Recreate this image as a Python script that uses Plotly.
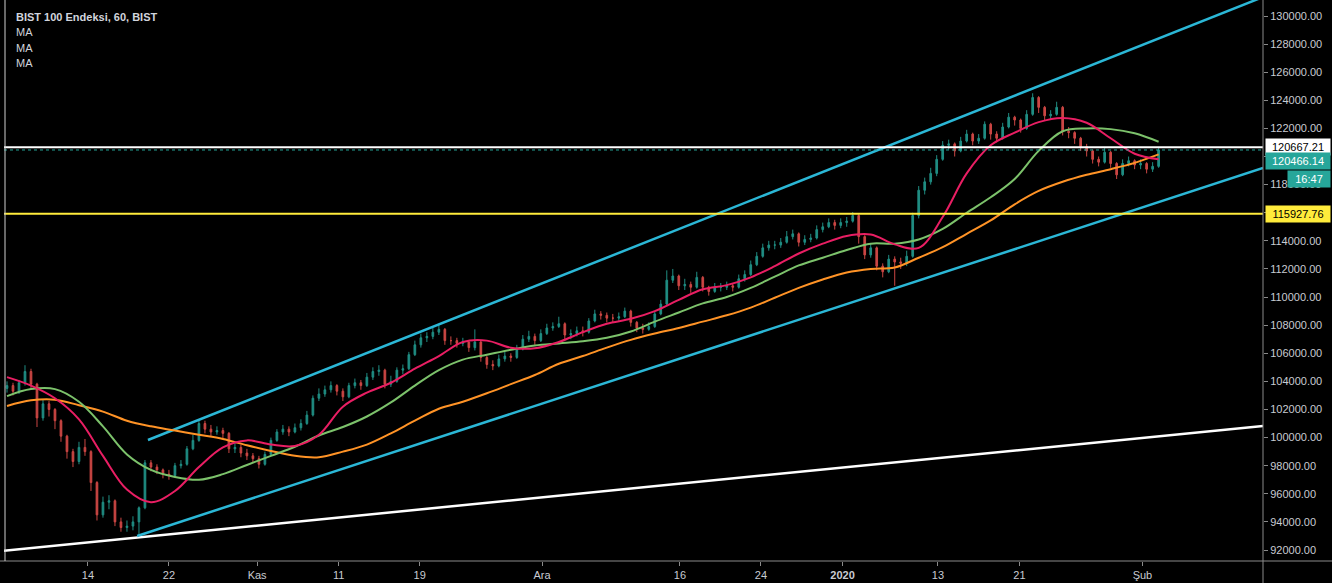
import plotly.graph_objects as go

# ---------------- data ----------------
first_open = 103500
closes = [
    103700, 103300, 103900, 104700, 103800, 101400, 102400, 102000, 101200, 100100,
    99000, 98300, 99300, 99000, 96800, 94500, 95400, 95500, 94000, 93600,
    93700, 94000, 95000, 98200, 97900, 97700, 97400, 97300, 98000, 98100,
    99200, 99800, 101000, 100600, 100400, 100500, 100300, 99200, 99300, 98900,
    98700, 98500, 98100, 98800, 99800, 100400, 100600, 100400, 100700, 101000,
    101600, 102800, 103100, 103400, 103700, 103300, 102900, 103700, 103900, 103700,
    104300, 104700, 104800, 103800, 104000, 104800, 104900, 105900, 106600, 107100,
    107200, 107500, 107700, 106900, 106900, 106700, 106800, 106400, 106800, 105700,
    105200, 105100, 105600, 105800, 105700, 106300, 107000, 107200, 106900, 107400,
    107800, 107900, 108100, 107300, 107400, 107600, 107500, 108300, 108800, 108700,
    108500, 108500, 108600, 109000, 108200, 107800, 107700, 107900, 108800, 109500,
    111200, 111500, 110800, 110900, 110700, 111400, 110700, 110400, 110700, 110700,
    110800, 110700, 111300, 111600, 112300, 112900, 113500, 113700, 113700, 113900,
    114300, 114500, 113900, 114100, 114200, 114800, 115000, 115300, 115100, 115300,
    115400, 115800, 114300, 113000, 113500, 112200, 111800, 112700, 112500, 112400,
    112900, 115800, 117600, 118200, 118800, 119800, 120800, 120900, 120400, 121100,
    121600, 121100, 121300, 122300, 121600, 121300, 122100, 122800, 122600, 122000,
    123000, 124200, 123500, 122900, 123000, 123500, 121800, 121700, 121300, 120700,
    120400, 119800, 119600, 120300, 119500, 118700, 119500, 119700, 119400, 119500,
    119100, 119300, 120466.14,
]
highs = [
    104000, 103900, 104100, 105150, 104900, 103900, 102700, 102600, 102100, 101300,
    100200, 99200, 99700, 99900, 99100, 96900, 95800, 95900, 95600, 94300,
    94100, 94400, 95100, 98400, 98400, 98100, 97800, 97700, 98200, 98400,
    99400, 100200, 101300, 101200, 100900, 100800, 100700, 100400, 99600, 99500,
    99200, 98900, 98700, 99000, 100000, 100600, 100900, 100800, 101000, 101300,
    101900, 103000, 103500, 103700, 104000, 103800, 103500, 103900, 104200, 104100,
    104600, 105000, 105150, 104900, 104400, 105000, 105200, 106100, 106900, 107400,
    107500, 107800, 108100, 107800, 107200, 107100, 107100, 106900, 107700, 106900,
    105800, 105500, 105900, 106100, 106000, 106600, 107300, 107600, 107400, 107700,
    108100, 108200, 108600, 108200, 107700, 107900, 107900, 108500, 109100, 109000,
    108900, 108800, 108900, 109250, 109100, 108300, 108100, 108200, 109000, 109800,
    111900, 112000, 111600, 111300, 111100, 111800, 111500, 110800, 111000, 111000,
    111100, 111000, 111600, 111900, 112600, 113200, 113800, 114000, 114000, 114200,
    114700, 114800, 114600, 114400, 114500, 115100, 115300, 115600, 115500, 115600,
    115700, 116050, 115900, 114400, 113800, 113600, 112400, 113000, 112900, 112800,
    113300, 116000, 117900, 118500, 119200, 120100, 121100, 121200, 121000, 121400,
    121900, 121700, 121600, 122500, 122400, 121800, 122400, 123100, 122900, 122700,
    123300, 124500, 124300, 123600, 123300, 123900, 123600, 122100, 121800, 121400,
    120900, 120500, 120000, 120600, 120400, 119600, 119800, 120000, 119800, 119800,
    119600, 119600, 120600,
]
lows = [
    103200, 103000, 103100, 103700, 103500, 100750, 101200, 101500, 100600, 99700,
    98500, 97900, 98100, 98700, 96200, 94100, 94300, 94900, 93700, 93300,
    93300, 93400, 93000, 94900, 97600, 97400, 97100, 97000, 97200, 97800,
    98000, 99100, 99700, 100300, 100100, 100200, 99900, 98900, 98900, 98600,
    98400, 98200, 97800, 98000, 98700, 99700, 100200, 100100, 100300, 100500,
    100900, 101500, 102600, 102900, 103200, 103000, 102600, 102800, 103500, 103400,
    103600, 104100, 104400, 103500, 103600, 103900, 104500, 104800, 105800, 106400,
    106800, 107000, 107300, 106600, 106600, 106400, 106500, 106100, 106200, 105400,
    104900, 104800, 105000, 105400, 105400, 105600, 106200, 106800, 106600, 106800,
    107300, 107600, 107800, 107000, 107000, 107200, 107200, 107400, 108200, 108400,
    108200, 108200, 108300, 108500, 107900, 107500, 107400, 107600, 107800, 108700,
    109400, 111000, 110500, 110500, 110300, 110600, 110400, 110100, 110300, 110400,
    110500, 110400, 110600, 111100, 111500, 112200, 112800, 113300, 113400, 113500,
    113800, 114100, 113600, 113700, 113900, 114100, 114600, 114900, 114800, 114900,
    115000, 115300, 113800, 112700, 112800, 111900, 111400, 111700, 110800, 112000,
    112200, 112800, 115600, 117300, 118000, 118600, 119700, 120500, 120000, 120300,
    121000, 120800, 120900, 121200, 121200, 121000, 121200, 122000, 122200, 121700,
    121900, 122900, 123100, 122600, 122600, 122900, 121500, 121300, 120900, 120400,
    120000, 119500, 119300, 119500, 119200, 118400, 118600, 119300, 119100, 119100,
    118800, 118900, 119200,
]

# moving averages, sampled every ma_step candles
ma_step = 4
ma_fast = [104300, 103700, 102800, 101300, 98700, 96300, 95400, 96200, 97900, 99300,
           99800, 99500, 99400, 100200, 102200, 103200, 103900, 104900, 105800, 106800,
           106900, 106400, 106350, 106800, 107500, 108100, 108450, 109000, 109800, 110550,
           110850, 111400, 112200, 113100, 113800, 114350, 114450, 113750, 113500, 115700,
           118800, 120800, 121700, 122450, 122750, 122400, 121300, 120200, 119800]
ma_mid = [102950, 103450, 103450, 102550, 100800, 98800, 97700, 97200, 97000, 97400,
          98050, 98700, 99350, 100150, 100750, 101500, 102500, 103700, 104800, 105550,
          105900, 106250, 106550, 106700, 106850, 107100, 107550, 108250, 108900, 109550,
          110000, 110650, 111450, 112250, 112800, 113350, 113800, 113800, 114100, 114850,
          116000, 117100, 118400, 120400, 121800, 122000, 121950, 121650, 121050]
ma_slow = [102250, 102650, 102700, 102300, 101850, 101200, 100800, 100500, 100200, 99900,
           99450, 99050, 98700, 98600, 99000, 99500, 100300, 101200, 102050, 102550,
           103150, 103800, 104450, 105250, 105800, 106400, 106950, 107400, 107800, 108250,
           108700, 109250, 109950, 110650, 111250, 111750, 112000, 112100, 112800, 113550,
           114500, 115450, 116600, 117550, 118200, 118700, 119100, 119550, 120150]

# time axis (candle index positions of the date labels)
tick_pos = [13.5, 27.0, 41.7, 55.3, 68.8, 89.2, 112.2, 125.7, 139.3, 155.2, 168.8, 189.3]
tick_labels = ["14", "22", "Kas", "11", "19", "Ara", "16", "24", "<b>2020</b>", "13", "21", "Şub"]

# price scale; labels hidden behind the price tags in the reference are left blank
y_ticks = list(range(92000, 130001, 2000))
y_hidden = [116000, 120000]

# drawings
upper_channel_x = [23.5, 209.4]
upper_channel_y = [99830, 131350]
lower_channel_x = [21.7, 209.4]
lower_channel_y = [93000, 119180]
base_line_x = [-1.0, 209.4]
base_line_y = [91930, 100830]
level_white = 120667.21
level_yellow = 115927.76
last_price = closes[-1]
countdown = "16:47"

title = "BIST 100 Endeksi, 60, BIST"
ma_names = ["MA", "MA", "MA"]

# ---------------- figure ----------------
FONT = "Liberation Sans, Arial, sans-serif"
TXT = "#c8cbd2"
AXIS = "#8a8a8a"

idx = list(range(len(closes)))
opens = [first_open] + closes[:-1]
highs_c = [max(h, o, c) for h, o, c in zip(highs, opens, closes)]
lows_c = [min(l, o, c) for l, o, c in zip(lows, opens, closes)]
ma_x = [i * ma_step for i in range(len(ma_fast))]
y_text = ["" if v in y_hidden else f"{v:.2f}" for v in y_ticks]

fig = go.Figure()

fig.add_trace(go.Scatter(x=base_line_x, y=base_line_y, mode="lines",
                         line=dict(color="#ffffff", width=2.5), hoverinfo="skip"))
fig.add_trace(go.Scatter(x=upper_channel_x, y=upper_channel_y, mode="lines",
                         line=dict(color="#2bb7d6", width=2.5), hoverinfo="skip"))
fig.add_trace(go.Scatter(x=lower_channel_x, y=lower_channel_y, mode="lines",
                         line=dict(color="#2bb7d6", width=2.5), hoverinfo="skip"))

fig.add_hline(y=level_white, line=dict(color="#ffffff", width=2))
fig.add_hline(y=level_yellow, line=dict(color="#ffeb3b", width=2))
fig.add_hline(y=last_price, line=dict(color="#26a69a", width=1, dash="dot"))

fig.add_trace(go.Candlestick(
    x=idx, open=opens, high=highs_c, low=lows_c, close=closes,
    increasing=dict(line=dict(color="#26a69a", width=1), fillcolor="#26a69a"),
    decreasing=dict(line=dict(color="#ef5350", width=1), fillcolor="#ef5350"),
    whiskerwidth=0, opacity=0.85, hoverinfo="skip"))

fig.add_trace(go.Scatter(x=ma_x, y=ma_slow, mode="lines", line_shape="spline",
                         line=dict(color="#ff9326", width=2), hoverinfo="skip"))
fig.add_trace(go.Scatter(x=ma_x, y=ma_mid, mode="lines", line_shape="spline",
                         line=dict(color="#7cc26b", width=2), hoverinfo="skip"))
fig.add_trace(go.Scatter(x=ma_x, y=ma_fast, mode="lines", line_shape="spline",
                         line=dict(color="#e91e63", width=2), hoverinfo="skip"))

W, H = 1332, 583
ML, MR, MT, MB = 4, 69, 0, 22
PW = W - ML - MR
PH = H - MT - MB

fig.update_layout(
    width=W, height=H,
    margin=dict(l=ML, r=MR, t=MT, b=MB, autoexpand=False),
    paper_bgcolor="#000000", plot_bgcolor="#000000",
    showlegend=False, hovermode=False, boxgap=0.6,
    font=dict(family=FONT, size=11, color=TXT),
    xaxis=dict(range=[-0.5, 209.4], rangeslider=dict(visible=False),
               showgrid=False, zeroline=False, showline=False, automargin=False,
               tickmode="array", tickvals=tick_pos, ticktext=tick_labels,
               ticks="outside", ticklen=4, tickcolor=AXIS,
               tickfont=dict(family=FONT, size=11, color=TXT)),
    yaxis=dict(range=[91217, 131139], side="right", automargin=False,
               showgrid=False, zeroline=False, showline=False,
               tickmode="array", tickvals=y_ticks, ticktext=y_text,
               ticks="outside", ticklen=4, tickcolor=AXIS,
               tickfont=dict(family=FONT, size=11, color=TXT)),
)

# frame lines (bottom axis line across full width, right price-scale line full height, left edge)
fig.add_shape(type="line", xref="paper", yref="paper", x0=-ML / PW, x1=1 + MR / PW, y0=0, y1=0,
              line=dict(color=AXIS, width=1))
fig.add_shape(type="line", xref="paper", yref="paper", x0=1, x1=1, y0=-MB / PH, y1=1,
              line=dict(color=AXIS, width=1))
fig.add_shape(type="line", xref="paper", yref="paper", x0=0.0008, x1=0.0008, y0=0, y1=1,
              line=dict(color="#cfcfcf", width=1))

# price-scale labels
def price_label(y, text, bg, fg, yshift=0, width=62, xshift=2):
    fig.add_annotation(xref="paper", yref="y", x=1, y=y, text=text, showarrow=False,
                       xanchor="left", yanchor="middle", xshift=xshift, yshift=yshift,
                       bgcolor=bg, font=dict(family=FONT, size=11, color=fg),
                       width=width, height=14, align="center", borderpad=1)

price_label(level_white, f"{level_white:.2f}", "#ffffff", "#000000")
price_label(last_price, f"{last_price:.2f}", "#26a69a", "#ffffff", yshift=-11)
price_label(last_price, countdown, "#26a69a", "#ffffff", yshift=-29, width=40, xshift=24)
price_label(level_yellow, f"{level_yellow:.2f}", "#ffeb3b", "#000000")

# top-left legend texts
fig.add_annotation(xref="paper", yref="paper", x=10 / PW, y=1 - 17 / PH, text=f"<b>{title}</b>",
                   showarrow=False, xanchor="left", yanchor="middle",
                   font=dict(family=FONT, size=11, color="#d1d4dc"))
for k, name in enumerate(ma_names):
    fig.add_annotation(xref="paper", yref="paper", x=10 / PW, y=1 - (32 + 15.5 * k) / PH, text=name,
                       showarrow=False, xanchor="left", yanchor="middle",
                       font=dict(family=FONT, size=11, color="#d1d4dc"))

fig.write_html("out.html", config={"displayModeBar": False},
               post_script="document.body.style.margin='0';document.body.style.overflow='hidden';")
